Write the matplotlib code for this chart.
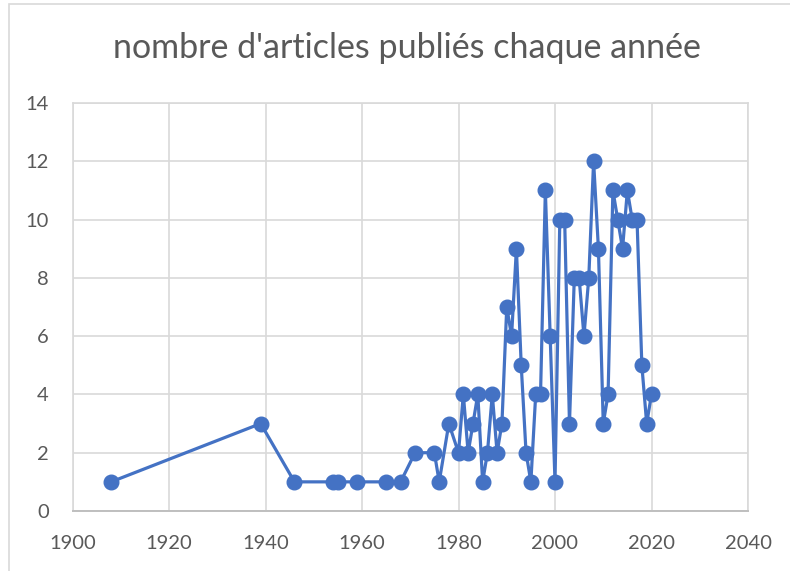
import matplotlib.pyplot as plt
from matplotlib.patches import Rectangle

plt.rcParams['font.family'] = ['Lato', 'DejaVu Sans']

# articles per year
years = [1908, 1939, 1946, 1954, 1955, 1959, 1965, 1968, 1971, 1975, 1976, 1978,
         1980, 1981, 1982, 1983, 1984, 1985, 1986, 1987, 1988, 1989, 1990, 1991,
         1992, 1993, 1994, 1995, 1996, 1997, 1998, 1999, 2000, 2001, 2002, 2003,
         2004, 2005, 2006, 2007, 2008, 2009, 2010, 2011, 2012, 2013, 2014, 2015,
         2016, 2017, 2018, 2019, 2020]
counts = [1, 3, 1, 1, 1, 1, 1, 1, 2, 2, 1, 3,
          2, 4, 2, 3, 4, 1, 2, 4, 2, 3, 7, 6,
          9, 5, 2, 1, 4, 4, 11, 6, 1, 10, 10, 3,
          8, 8, 6, 8, 12, 9, 3, 4, 11, 10, 9, 11,
          10, 10, 5, 3, 4]

x_ticks = list(range(1900, 2041, 20))
y_ticks = list(range(0, 15, 2))

text_col = '#595959'
grid_col = '#d9d9d9'
line_col = '#4472C4'

fig = plt.figure(figsize=(7.9, 5.71), dpi=100)
ax = fig.add_axes([72.5 / 790, 1 - 511 / 571, (748 - 72.5) / 790, (511 - 103) / 571])

ax.plot(years, counts, color=line_col, lw=2.3, marker='o', ms=10.5,
        markeredgecolor=line_col, markerfacecolor=line_col, zorder=3)

ax.set_xlim(1900, 2040)
ax.set_ylim(0, 14)
ax.set_xticks(x_ticks)
ax.set_yticks(y_ticks)
ax.grid(True, color=grid_col, lw=1.2)
ax.set_axisbelow(True)
for side in ['left', 'top', 'right']:
    ax.spines[side].set_color(grid_col)
    ax.spines[side].set_linewidth(1.2)
ax.spines['bottom'].set_color('#bfbfbf')
ax.spines['bottom'].set_linewidth(1.4)
ax.tick_params(length=0, labelsize=14.5, labelcolor=text_col)
ax.tick_params(axis='x', pad=17)
ax.tick_params(axis='y', pad=17)

fig.text(0.515, 1 - 48 / 571, "nombre d'articles publiés chaque année",
         ha='center', va='center', fontsize=24.5, color=text_col)

# chart border
fig.patches.append(Rectangle((8.5 / 790, -0.05), 1.2, 1 - 4 / 571 + 0.05,
                             transform=fig.transFigure, fill=False,
                             edgecolor=grid_col, lw=1.2))

fig.savefig('out.png', dpi=100)
